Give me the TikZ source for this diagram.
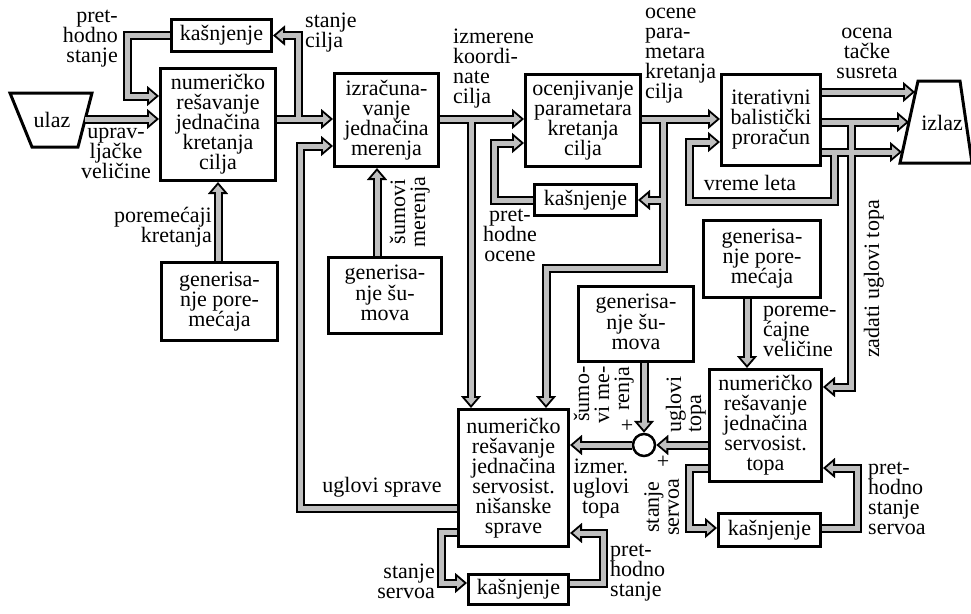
\documentclass[tikz,border=0pt]{standalone}
\usepackage{fontspec}
\setmainfont{Liberation Serif}
\usetikzlibrary{arrows.meta}
\newcommand\mystrut{\rule[-5pt]{0pt}{20pt}}
\newcommand\pipelines{%
 \draw[pipeln,pipearrow] (u1) -- (u1 -| N1.west);
 \draw[pipeln,pipearrow] (N1.east |- r1) -- (IZ.west |- r1);
 \draw[pipeln,pipearrow] (j1) |- (K1.east);
 \draw[pipeln,pipearrow] (K1.west) -| (c4) -- (c4 -| N1.west);
 \draw[pipeln,pipearrow] (IZ.east |- r1) -- (OC.west |- r1);
 \draw[pipeln,pipearrow] (j2) -- (j2 |- N2.north);
 \draw[pipeln,pipearrow] (OC.east |- r1) -- (IB.west |- r1);
 \draw[pipeln,pipearrow] (j3) |- (c8) -- (c8 |- N2.north);
 \draw[pipeln,pipearrow] (j4) -- (K2.east);
 \draw[pipeln,pipearrow] (K2.west) -| (c10) -- (c10 -| OC.west);
 \draw[pipeln,pipearrow] (v1 |- GS1.north) -- (v1 |- IZ.south);
 \draw[pipeln,pipearrow] (G1.north -| N1.south) -- (N1.south);
 \draw[pipeln,pipearrow] (N2.west |- c13s) -| (c13) -- (c13 -| IZ.west);
 \draw[pipeln,pipearrow] (IB.east |- o1) -- (o1);
 \draw[pipeln,pipearrow] (IB.east |- o2) -- (o2);
 \draw[pipeln,pipearrow] (IB.east |- o3) -- (o3);
 \draw[pipeln,pipearrow] (j5) -- (c17) -- (c17 -| N3.east);
 \draw[pipeln,pipearrow] (j6) |- (c18a) -- (c18b) -- (c18b -| IB.west);
 \draw[pipeln,pipearrow] (v2 |- GP2.south) -- (v2 |- N3.north);
 \draw[pipeln,pipearrow] (sum |- GS2.south) -- (sum.north);
 \draw[pipeln,pipearrow] (N3.west |- sum) -- (sum.east);
 \draw[pipeln,pipearrow] (sum.west) -- (sum -| N2.east);
 \draw[pipeln,pipearrow] (N2.west |- c23a) -- (c23a) -- (c23b) -- (c23b -| K3.west);
 \draw[pipeln,pipearrow] (K3.east |- c24a) -- (c24a) -- (c24b) -- (c24b -| N2.east);
 \draw[pipeln,pipearrow] (N3.west |- c25a) -- (c25a) -- (c25b) -- (c25b -| K4.west);
 \draw[pipeln,pipearrow] (K4.east |- c26a) -- (c26a) -- (c26b) -- (c26b -| N3.east);
}
\begin{document}
\begin{tikzpicture}[x=1pt,y=-1pt,
  font=\fontsize{22}{20}\selectfont,
  box/.style={draw, line width=3pt, fill=white, inner sep=0pt, align=center,
    execute at begin node=\mystrut, execute at end node=\mystrut},
  lbl/.style={inner sep=0pt, execute at begin node=\mystrut, execute at end node=\mystrut},
  sign/.style={inner sep=0pt, font=\fontsize{22}{22}\selectfont}]
\useasboundingbox (0,0) rectangle (971,613);

% input / output
\draw[line width=3pt, line join=miter] (10,93) -- (92,93) -- (78,147) -- (32,147) -- cycle;
\node[inner sep=0pt] (ulaz) at (52,120) {ulaz};
\draw[line width=3pt, line join=miter] (918,81) -- (960,81) -- (972,163) -- (900,163) -- cycle;
\node[inner sep=0pt] (izlaz) at (942,123) {izlaz};

% boxes
\node[box, minimum width=115pt, minimum height=112pt] (N1) at (218,124.5) {numeričko\\rešavanje\\jednačina\\kretanja\\cilja};
\node[box, minimum width=100pt, minimum height=32pt] (K1) at (221.5,35.5) {kašnjenje};
\node[box, minimum width=116pt, minimum height=78pt] (G1) at (219.5,301.5) {generisa-\\nje pore-\\mećaja};
\node[box, minimum width=104pt, minimum height=93pt] (IZ) at (386.5,120) {izračuna-\\vanje\\jednačina\\merenja};
\node[box, minimum width=115pt, minimum height=92pt] (OC) at (583,120.5) {ocenjivanje\\parametara\\kretanja\\cilja};
\node[box, minimum width=102pt, minimum height=31pt] (K2) at (585.5,200) {kašnjenje};
\node[box, minimum width=99pt, minimum height=91pt] (IB) at (771,120) {iterativni\\balistički\\proračun};
\node[box, minimum width=113pt, minimum height=76pt] (GS1) at (385,295.5) {generisa-\\nje šu-\\mova};
\node[box, minimum width=117pt, minimum height=77pt] (GP2) at (762,259) {generisa-\\nje pore-\\mećaja};
\node[box, minimum width=115pt, minimum height=75pt] (GS2) at (636,324) {generisa-\\nje šu-\\mova};
\node[box, minimum width=112pt, minimum height=112pt] (N3) at (765.5,425.5) {numeričko\\rešavanje\\jednačina\\servosist.\\topa};
\node[box, minimum width=110pt, minimum height=137pt] (N2) at (513.5,478) {numeričko\\rešavanje\\jednačina\\servosist.\\nišanske\\sprave};
\node[box, minimum width=100pt, minimum height=30pt] (K3) at (518.5,589) {kašnjenje};
\node[box, minimum width=102pt, minimum height=33pt] (K4) at (769.5,530) {kašnjenje};
\node[circle, draw, line width=2.5pt, fill=white, minimum size=22pt, inner sep=0pt] (sum) at (644,445) {};

% helper coordinates
\coordinate (r1) at (0,119);
\coordinate (u1) at (85,119);
\coordinate (j1) at (298,119);
\coordinate (c4) at (127,96);
\coordinate (j2) at (471,119);
\coordinate (j3) at (663,119);
\coordinate (c8) at (546,268);
\coordinate (j4) at (663,200);
\coordinate (c10) at (494,143);
\coordinate (v1) at (377,0);
\coordinate (c13) at (300,146);
\coordinate (c13s) at (0,508);
\coordinate (o1) at (915,92);
\coordinate (o2) at (909,122);
\coordinate (o3) at (902,152);
\coordinate (j5) at (851,122);
\coordinate (c17) at (851,387);
\coordinate (j6) at (834,152);
\coordinate (c18a) at (689,201);
\coordinate (c18b) at (689,142);
\coordinate (v2) at (747,0);
\coordinate (c23a) at (441,532);
\coordinate (c23b) at (441,583);
\coordinate (c24a) at (603,583);
\coordinate (c24b) at (603,533);
\coordinate (c25a) at (689,468);
\coordinate (c25b) at (689,528);
\coordinate (c26a) at (857,528);
\coordinate (c26b) at (857,468);

% pipes: outer black pass, then inner grey pass
\begin{scope}[line join=miter,
  pipeln/.style={line width=9pt, draw=black},
  pipearrow/.style={-{Triangle[width=20pt,length=12pt,line width=1.8pt,fill=gray!50]}}]
\pipelines
\end{scope}
\begin{scope}[line join=miter,
  pipeln/.style={line width=5pt, draw=gray!50},
  pipearrow/.style={shorten >=7pt}]
\pipelines
\end{scope}

% labels
\node[lbl, anchor=east, align=right] (l1) at (118,39) {pret-\\hodno\\stanje};
\node[lbl, anchor=west, align=left] (l2) at (305,33) {stanje\\cilja};
\node[lbl, align=center] (l3) at (116,156) {uprav-\\ljačke\\veličine};
\node[lbl, anchor=east, align=right] (l4) at (212,227) {poremećaji\\kretanja};
\node[lbl, rotate=90, align=center] (l5) at (410,212) {šumovi\\merenja};
\node[lbl, anchor=west, align=left] (l6) at (453,69) {izmerene\\koordi-\\nate\\cilja};
\node[lbl, align=center] (l7) at (510,238) {pret-\\hodne\\ocene};
\node[lbl, anchor=west, align=left] (l8) at (645,56) {ocene\\para-\\metara\\kretanja\\cilja};
\node[lbl, align=center] (l9) at (867,56) {ocena\\tačke\\susreta};
\node[lbl] (l10) at (750,185) {vreme leta};
\node[lbl, rotate=90] (l11) at (874,279) {zadati uglovi topa};
\node[lbl, anchor=west, align=left] (l12) at (763,334) {poreme-\\ćajne\\veličine};
\node[lbl, rotate=90, align=right] (l13) at (604,395) {šumo-\\vi me-\\renja};
\node[lbl, rotate=90, align=left] (l14) at (686,404) {uglovi\\topa};
\node[lbl, rotate=90, align=center] (l15) at (664,507) {stanje\\servoa};
\node[lbl, align=center] (l16) at (601,489) {izmer.\\uglovi\\topa};
\node[lbl] (l17) at (382,487) {uglovi sprave};
\node[lbl, anchor=east, align=right] (l18) at (435,584) {stanje\\servoa};
\node[lbl, anchor=west, align=left] (l19) at (610,573) {pret-\\hodno\\stanje};
\node[lbl, anchor=west, align=left] (l20) at (868,501) {pret-\\hodno\\stanje\\servoa};
\node[sign] (p1) at (627,426) {+};
\node[sign] (p2) at (663,462) {+};
\end{tikzpicture}
\end{document}
